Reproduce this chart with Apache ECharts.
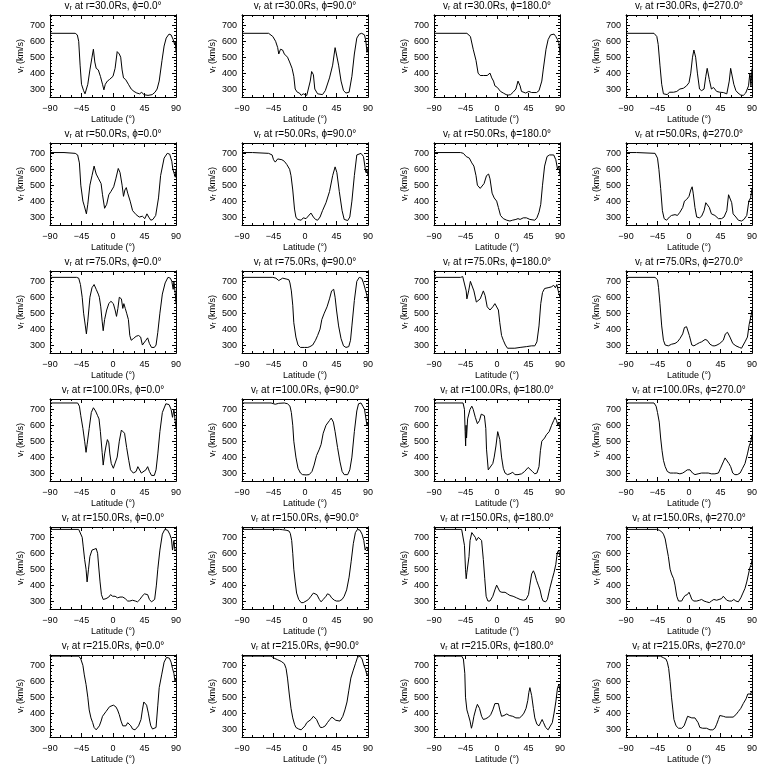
<!DOCTYPE html>
<html><head><meta charset="utf-8">
<script src="https://cdn.jsdelivr.net/npm/echarts@6/dist/echarts.min.js"></script>
<style>html,body{margin:0;padding:0;background:#fff}#c{width:768px;height:768px}</style>
</head><body><div id="c"></div>
<script>
const radii=[30,50,75,100,150,215];
const phis=[0,90,180,270];
const xTicks=[-90,-45,0,45,90];
const yTicks=[300,400,500,600,700];
const yMinorTicks=[260,280,320,340,360,380,420,440,460,480,520,540,560,580,620,640,660,680,720,740,760];

const r30_p0=[[-90,650],[-54,650],[-51,640],[-49,600],[-47,450],[-45,330],[-42,290],[-40,270],[-38,265],[-36,330],[-33,420],[-30,500],[-28,550],[-26,470],[-24,430],[-21,420],[-18,380],[-15,330],[-13,295],[-11,330],[-8,350],[-5,360],[-3,350],[0,380],[3,430],[6,535],[9,520],[11,500],[13,420],[15,370],[18,360],[20,360],[22,330],[26,300],[30,285],[34,275],[38,270],[41,280],[44,265],[50,260],[56,265],[60,280],[63,300],[66,350],[70,480],[73,570],[76,620],[80,645],[83,640],[86,610],[88,580],[89,600],[90,530]];
const r30_p90=[[-90,650],[-52,650],[-46,630],[-42,600],[-39,560],[-37.5,520],[-35,550],[-32,545],[-29.5,520],[-27,530],[-25,500],[-22,470],[-18.5,430],[-16,380],[-14,300],[-11,280],[-8,275],[-5.5,260],[-2.5,270],[0,275],[2.5,260],[5,270],[7.5,350],[9.5,410],[12,390],[14,300],[18,270],[20.5,265],[25,265],[29,290],[35,370],[39.5,450],[43,560],[45,560],[48,450],[51.5,350],[55,290],[58.5,275],[61,265],[63,280],[67,380],[70.5,520],[74,620],[77.5,645],[81,650],[85,640],[87,600],[88.5,530],[90,560]];
const r30_p180=[[-90,650],[-43,650],[-38,630],[-34,550],[-30,480],[-27,400],[-24,385],[-19.5,385],[-17,375],[-14,385],[-10,400],[-7.5,370],[-5,350],[-3,320],[0.5,310],[3,305],[5,285],[9,275],[13,265],[16,262],[19.5,265],[23,280],[27,300],[30,350],[33,320],[35,285],[37.5,275],[41,275],[45.5,285],[49.5,278],[56.5,278],[60,290],[64,350],[66,420],[70,550],[73,610],[76.5,640],[81.5,645],[84,630],[86.5,610],[88.5,590],[89.5,600],[90,520]];
const r30_p270=[[-90,650],[-50,650],[-46,630],[-44,580],[-41.5,450],[-39,330],[-36.5,270],[-34,260],[-31,265],[-28,280],[-22,280],[-17.5,285],[-13,300],[-8,305],[-3.5,320],[0,340],[2.5,400],[5,500],[7,545],[9.5,500],[12,400],[15,300],[18,290],[21.5,300],[24,380],[26,430],[29,360],[32,300],[35,310],[37,300],[39.5,285],[44,280],[49,278],[54,270],[57.5,350],[59.5,430],[62,430],[64,330],[67,290],[70,275],[74,262],[77.5,260],[81,275],[85,320],[87,400],[88.5,320],[90,430]];

const r50_p0=[[-90,705],[-70,705],[-68,700],[-54,700],[-50.5,690],[-48,640],[-46,500],[-43,400],[-41,370],[-38,320],[-36,380],[-33,500],[-30,560],[-27,620],[-24,570],[-20.5,540],[-17,510],[-15,440],[-12,355],[-9,380],[-6,440],[-3,460],[1,490],[4,540],[7.5,605],[10,580],[13,500],[15,430],[17,470],[19,485],[21,450],[24.5,400],[28,340],[33,315],[37.5,300],[42,305],[45.5,290],[48.5,320],[51,300],[54,280],[57,285],[61,310],[65,420],[68,560],[73,670],[77.5,700],[81,695],[84,650],[85.5,600],[88,590],[89,550],[90,600]];
const r50_p90=[[-90,705],[-75,705],[-73,700],[-52,700],[-47,690],[-45,660],[-42.5,645],[-39,665],[-36.5,670],[-33,660],[-29.5,650],[-26,630],[-22,600],[-20,560],[-17.5,470],[-15,350],[-13,300],[-10.5,285],[-5.5,280],[-2.5,295],[1.5,290],[4,300],[8.5,325],[12,300],[15,285],[18,280],[21.5,300],[25,340],[30,390],[35,460],[39.5,560],[43,615],[45.5,580],[49,460],[53,340],[56,285],[61,278],[64,300],[67,400],[70.5,560],[74,690],[80,700],[83.5,680],[85.5,620],[87,580],[88.5,600],[90,560]];
const r50_p180=[[-90,705],[-52,705],[-48,700],[-44,680],[-42,685],[-39.5,670],[-36,640],[-33,620],[-30,560],[-28,500],[-24,480],[-21.5,480],[-18.5,510],[-15,560],[-12,570],[-10,540],[-7,450],[-4,420],[-0.5,400],[2,360],[5,310],[9,290],[14,280],[16,280],[18.5,275],[22,280],[24,270],[27,285],[30,290],[33,285],[37.5,295],[42,295],[47,285],[54,280],[57,295],[60,330],[62.5,380],[65,500],[68,620],[71.5,680],[75,690],[81,690],[84,660],[86.5,600],[88.5,620],[90,560]];
const r50_p270=[[-90,705],[-75,705],[-73,700],[-48.5,700],[-45,670],[-43,600],[-40.5,480],[-38,340],[-35.5,290],[-32,280],[-28,300],[-25,310],[-20,315],[-16.5,310],[-13,330],[-9,360],[-6.5,400],[-3.5,410],[0,430],[2.5,470],[4.5,490],[6,450],[8.5,360],[11,300],[15,295],[18,305],[21.5,340],[24,390],[26,400],[29,360],[32,320],[37,310],[42,290],[46.5,290],[50,300],[54,340],[56.5,440],[58.5,430],[61,390],[63,320],[67,300],[70.5,280],[75,275],[78.5,285],[82.5,310],[85.5,400],[88,420],[90,480]];

const r75_p0=[[-90,725],[-52,725],[-49,720],[-46.5,680],[-44,600],[-42,500],[-39.5,420],[-38,370],[-36,450],[-33,600],[-30,660],[-27,680],[-24,650],[-21,620],[-19.5,600],[-17.5,540],[-15.5,450],[-14,390],[-12,460],[-9,520],[-6,560],[-3,575],[0.5,560],[3,520],[5,480],[7,530],[9,600],[12,590],[14,530],[15.5,560],[17.5,530],[19.5,500],[22,460],[24,360],[26,330],[29,340],[33,355],[36.5,360],[39.5,350],[42,300],[44.5,290],[47,330],[49.5,345],[52,310],[55,285],[59,285],[61.5,300],[64,380],[67,500],[70.5,620],[74.5,690],[78.5,725],[82,720],[84,700],[86,650],[87,700],[89,620],[90,560]];
const r75_p90=[[-90,725],[-46,725],[-41.5,720],[-37.5,705],[-35,715],[-32,720],[-27,715],[-23,710],[-21.5,690],[-19.5,640],[-17.5,550],[-16,440],[-13,350],[-10,300],[-6.5,285],[-1,285],[4,285],[7,290],[11,300],[15,330],[18,360],[21.5,400],[24,460],[27.5,500],[31.5,540],[35,590],[38,640],[41,650],[43,600],[45,520],[48,420],[51.5,340],[55,295],[58.5,285],[62.5,290],[65,330],[67,420],[70.5,580],[74,700],[77.5,725],[81,720],[83.5,690],[86,700],[88,620],[90,570]];
const r75_p180=[[-90,725],[-52,725],[-49,730],[-46.5,720],[-44,640],[-43,590],[-40.5,640],[-38,700],[-36,710],[-33,640],[-29.5,570],[-27,560],[-24,590],[-19.5,640],[-17,610],[-14,540],[-10,520],[-6,540],[-3,560],[-0.5,550],[2,520],[4,440],[6.5,360],[9,330],[12,300],[15,280],[18.5,280],[25.5,280],[33,285],[42,290],[49.5,295],[54,295],[57,320],[60,420],[62.5,560],[65,630],[68,655],[73,660],[77.5,665],[81,675],[83.5,660],[85.5,680],[87.5,640],[90,600]];
const r75_p270=[[-90,725],[-48.5,725],[-45,710],[-43.5,660],[-41.5,560],[-39,420],[-36.5,330],[-34,300],[-29.5,295],[-25,305],[-20,310],[-16.5,320],[-13,340],[-9,370],[-6.5,410],[-3.5,415],[-2,405],[0.5,360],[4,300],[7,295],[11,305],[15,315],[18,320],[20.5,330],[23,335],[26,330],[30,305],[34,295],[37,295],[40,300],[44,310],[49,330],[52,370],[55,380],[58.5,350],[62.5,310],[67,295],[72,285],[75,280],[80,320],[83.5,350],[86,430],[88.5,480],[90,520]];

const r100_p0=[[-90,740],[-50.5,740],[-48,720],[-46,660],[-43,580],[-40.5,500],[-38.5,430],[-37,480],[-36,470],[-34,580],[-31,680],[-28,710],[-25,690],[-22,660],[-20,640],[-18,560],[-15.5,430],[-14,350],[-12,420],[-10,470],[-8,510],[-6,490],[-4.5,420],[-2.5,360],[0.5,330],[3,340],[6,400],[9,500],[12,570],[14,580],[16.5,550],[19.5,460],[22.5,380],[25,320],[29,300],[33,310],[35.5,340],[37.5,330],[40.5,300],[43,290],[47,320],[49.5,340],[52,310],[55,285],[59,285],[61.5,320],[64,420],[67,560],[70.5,680],[75.5,735],[80,730],[83,700],[85,650],[87,700],[89,620],[90,580]];
const r100_p90=[[-90,740],[-48.5,740],[-46,735],[-42.5,732],[-37.5,738],[-29.5,740],[-25,735],[-21.5,720],[-19.5,680],[-17.5,600],[-16,500],[-13,400],[-10,330],[-6.5,300],[-3.5,290],[1.5,288],[6,290],[10,310],[13,350],[16.5,410],[20.5,450],[23,480],[26,550],[30,600],[35,630],[37.5,645],[40.5,620],[43,560],[46.5,460],[50,370],[53,310],[56,290],[61,290],[64,320],[67,400],[70.5,560],[74,690],[76.5,735],[80,740],[82.5,720],[85,700],[87,700],[88.5,600],[90,620]];
const r100_p180=[[-90,740],[-48.5,740],[-46.5,700],[-45.5,560],[-44.8,470],[-44.2,600],[-43.5,520],[-42,640],[-38.5,700],[-36,720],[-34,700],[-31,650],[-28,610],[-25,630],[-22.5,670],[-20,680],[-18,660],[-16,580],[-15,450],[-12.5,320],[-10,330],[-6,360],[-4,400],[-1.5,470],[1,560],[2.5,570],[4,510],[6.5,400],[9,330],[11.5,300],[15,290],[18.5,295],[22.5,305],[25.5,290],[30,290],[35,295],[39.5,310],[44.5,335],[47,330],[50.5,310],[54,295],[57,300],[60,340],[62,440],[64,500],[68,520],[70.5,540],[74.5,560],[78,600],[81,630],[83,650],[85,630],[87,600],[88.5,620],[90,580]];
const r100_p270=[[-90,740],[-50,740],[-47,720],[-45,680],[-42.5,620],[-40.5,520],[-38.5,440],[-36.5,380],[-34,340],[-31,310],[-27,300],[-22,300],[-17.5,300],[-13,295],[-9,300],[-5.5,310],[-2.5,320],[1.5,320],[5,300],[8.5,290],[13,295],[18,300],[23,300],[27.5,300],[32,295],[37,295],[42,300],[45,330],[49,370],[51.5,395],[54,385],[57,360],[59.5,340],[62.5,300],[65.5,290],[69,290],[73,300],[76.5,330],[80,360],[83.5,420],[86,470],[88.5,500],[90,540]];

const r150_p0=[[-90,750],[-49,750],[-46.5,740],[-44,700],[-42.5,640],[-40.5,560],[-38.5,500],[-37,420],[-35,500],[-33,580],[-30,620],[-27,625],[-24,630],[-22,600],[-20.5,520],[-18.5,420],[-16.5,340],[-14,310],[-10,315],[-6,325],[-3.5,340],[-0.5,330],[3,330],[6.5,320],[10,325],[14,325],[17.5,315],[21,300],[24,300],[28,305],[32,300],[35,295],[38.5,310],[41.5,330],[45,345],[47,355],[49.5,340],[52,310],[55,295],[57,295],[59.5,310],[62,400],[64,500],[67,620],[70.5,720],[74,750],[78,745],[81,720],[83.5,690],[85,620],[87,680],[88.5,620],[90,620]];
const r150_p90=[[-90,750],[-36.5,750],[-32,748],[-27,745],[-23,740],[-21,725],[-19,680],[-17.5,600],[-16,500],[-14,420],[-12,350],[-9,310],[-5.5,290],[-2.5,290],[1.5,300],[5,310],[8.5,330],[12,350],[14,355],[17,340],[20.5,310],[23,295],[26,310],[30,330],[32,345],[35,340],[38,320],[42,305],[45,300],[49,300],[53,310],[56,330],[59.5,370],[63,450],[66,550],[69,660],[72,730],[75,750],[78.5,745],[81.5,720],[84,680],[86,620],[88,640],[90,620]];
const r150_p180=[[-90,750],[-50.5,750],[-48,740],[-46.5,650],[-45,500],[-44,440],[-43,480],[-41.5,470],[-40,580],[-38.5,680],[-36,730],[-34,720],[-31,700],[-29.5,680],[-26.5,700],[-24,705],[-22,680],[-19.5,560],[-17.5,440],[-15.5,330],[-13,300],[-10,300],[-6,330],[-3,370],[-0.5,400],[2,390],[4,360],[7,355],[11.5,355],[15,345],[18.5,335],[23,330],[28,320],[33,310],[37.5,305],[41.5,310],[45,340],[47,400],[49.5,470],[52,490],[54,470],[56.5,430],[59,400],[61.5,370],[64,320],[66,300],[69.5,295],[72,310],[75.5,380],[79,440],[81.5,480],[84,530],[86,600],[88,620],[90,580]];
const r150_p270=[[-90,750],[-46,750],[-42.5,745],[-39,735],[-36.5,720],[-34,690],[-32,640],[-29.5,580],[-27,500],[-25,470],[-22,440],[-20,400],[-17.5,330],[-15,300],[-13,295],[-10.5,300],[-8,320],[-5.5,335],[-2.5,340],[0,355],[1.5,340],[4,310],[7,300],[11,300],[15,305],[18,310],[21.5,300],[25,295],[29,290],[32,300],[35.5,310],[39.5,305],[43,310],[46.5,315],[49,330],[51.5,320],[54,305],[57.5,300],[61,300],[64,310],[67,300],[70.5,295],[74,320],[77,350],[80,380],[82.5,420],[85,470],[87,510],[89,530],[90,560]];

const r215_p0=[[-90,758],[-49,758],[-46,740],[-43,700],[-41,640],[-38.5,580],[-36,500],[-34,420],[-31.5,370],[-29,340],[-27,310],[-24,295],[-22,300],[-19.5,320],[-17,350],[-15,380],[-12.5,390],[-10,410],[-7.5,420],[-5,440],[-3,450],[0.5,450],[4,440],[6.5,420],[9,390],[11.5,350],[14,320],[16,315],[18.5,320],[21,340],[23,350],[25.5,320],[28,300],[31.5,295],[34,300],[36.5,320],[40,360],[42,420],[44,470],[45.5,480],[48,450],[50.5,400],[52.5,350],[54,320],[56.5,300],[59,295],[61.5,310],[64,450],[66,560],[69.5,640],[73,720],[76.5,750],[80.5,745],[83,720],[85,680],[87,650],[88.5,600],[90,620]];
const r215_p90=[[-90,758],[-48.5,758],[-44,745],[-39,735],[-34,725],[-29.5,710],[-27,680],[-25,620],[-22.5,520],[-20,430],[-17.5,370],[-15,330],[-13,310],[-9,300],[-5.5,295],[-3.5,300],[0,320],[2.5,340],[5,340],[8.5,360],[12,380],[14,390],[16.5,360],[19.5,330],[22,310],[25,310],[29,320],[32,340],[35.5,360],[38.5,375],[41,370],[44,355],[46.5,345],[50,350],[54,380],[57,420],[60,470],[62.5,540],[65.5,620],[69,670],[72,710],[75,750],[78.5,758],[81.5,740],[84,700],[86,680],[88.5,640],[90,650]];
const r215_p180=[[-90,758],[-50.5,758],[-48,740],[-46,650],[-45,500],[-43,420],[-41,390],[-38.5,350],[-36.5,305],[-35,330],[-33,380],[-30,430],[-28,455],[-25,430],[-22,380],[-19.5,360],[-16,365],[-12,375],[-9,390],[-6,420],[-3,460],[-0.5,470],[2,460],[4,420],[6.5,380],[10,385],[14,395],[17.5,385],[22.5,380],[27,370],[32,370],[35,380],[38.5,400],[41.5,430],[44,480],[45.5,530],[47,560],[49.5,510],[52,430],[54,370],[57,330],[60,320],[62,330],[64.5,360],[66.5,340],[69.5,310],[73,295],[75.5,300],[79,340],[81.5,400],[84,470],[86.5,560],[88.5,580],[90,540]];
const r215_p270=[[-90,758],[-41,758],[-36.5,748],[-33,740],[-31,720],[-29,680],[-27,600],[-25,500],[-23,420],[-21.5,360],[-18.5,320],[-15,305],[-10.5,305],[-7,320],[-4.5,350],[-2,380],[0.5,385],[4,370],[6,360],[8.5,370],[11,375],[13,340],[15.5,310],[19.5,305],[25,305],[30,295],[34,295],[37,305],[39.5,330],[42,360],[44,385],[46.5,390],[49,380],[52.5,375],[58.5,375],[63,375],[67,390],[70.5,410],[74,430],[77.5,460],[81.5,490],[84,520],[86,530],[88,520],[90,540]];

const panels=[
  [r30_p0,r30_p90,r30_p180,r30_p270],
  [r50_p0,r50_p90,r50_p180,r50_p270],
  [r75_p0,r75_p90,r75_p180,r75_p270],
  [r100_p0,r100_p90,r100_p180,r100_p270],
  [r150_p0,r150_p90,r150_p180,r150_p270],
  [r215_p0,r215_p90,r215_p180,r215_p270]
];

const FONT='"Liberation Sans","DejaVu Sans",sans-serif';
const BLACK='#000';
const grids=[],xAxes=[],yAxes=[],series=[],titles=[];
const txt={fontSize:9,color:BLACK,fontFamily:FONT};

radii.forEach((r,ri)=>{
  phis.forEach((p,ci)=>{
    const gi=grids.length;
    const left=50+192*ci, top=15+128*ri, W=126, H=82;
    grids.push({left:left,top:top,width:W,height:H,show:false});
    const xi=xAxes.length;
    const xBase={type:'value',gridIndex:gi,min:-90,max:90,interval:45,
      axisLine:{show:true,onZero:false,lineStyle:{color:BLACK,width:1}},
      axisTick:{show:true,inside:true,length:4,lineStyle:{color:BLACK,width:1}},
      minorTick:{show:true,splitNumber:3,length:2,lineStyle:{color:BLACK,width:1}},
      splitLine:{show:false},minorSplitLine:{show:false}};
    xAxes.push(Object.assign({},xBase,{position:'bottom',
      axisLabel:Object.assign({margin:7,formatter:v=>String(v).replace('-','\u2212')},txt),
      name:'Latitude (\u00b0)',nameLocation:'middle',nameGap:18,nameTextStyle:txt}));
    xAxes.push(Object.assign({},xBase,{position:'top',axisLabel:{show:false}}));
    const yi=yAxes.length;
    const yBase={type:'value',gridIndex:gi,min:250,max:765,
      axisLine:{show:true,onZero:false,lineStyle:{color:BLACK,width:1}},
      splitLine:{show:false}};
    const majorTick={show:true,inside:true,length:4,customValues:yTicks,lineStyle:{color:BLACK,width:1}};
    const minorTickAx={show:true,inside:true,length:2,customValues:yMinorTicks,lineStyle:{color:BLACK,width:1}};
    yAxes.push(Object.assign({},yBase,{position:'left',axisTick:majorTick,
      axisLabel:Object.assign({customValues:yTicks,margin:5},txt),
      name:'v\u1d63 (km/s)',nameLocation:'middle',nameGap:25,nameRotate:90,nameTextStyle:txt}));
    yAxes.push(Object.assign({},yBase,{position:'right',axisTick:majorTick,axisLabel:{show:false}}));
    yAxes.push(Object.assign({},yBase,{position:'left',axisTick:minorTickAx,axisLabel:{show:false}}));
    yAxes.push(Object.assign({},yBase,{position:'right',axisTick:minorTickAx,axisLabel:{show:false}}));
    series.push({type:'line',xAxisIndex:xi,yAxisIndex:yi,data:panels[ri][ci],
      showSymbol:false,symbol:'none',silent:true,clip:true,
      lineStyle:{color:BLACK,width:1}});
    titles.push({text:'v\u1d63 at r='+r.toFixed(1)+'Rs, \u03d5='+p.toFixed(1)+'\u00b0',
      left:left+W/2,top:128*ri+1,textAlign:'center',padding:0,
      textStyle:{fontSize:10,fontWeight:'normal',color:BLACK,fontFamily:FONT}});
  });
});

const chart=echarts.init(document.getElementById('c'),null,{renderer:'canvas'});
chart.setOption({animation:false,backgroundColor:'#fff',title:titles,grid:grids,xAxis:xAxes,yAxis:yAxes,series:series});
</script>
</body></html>
